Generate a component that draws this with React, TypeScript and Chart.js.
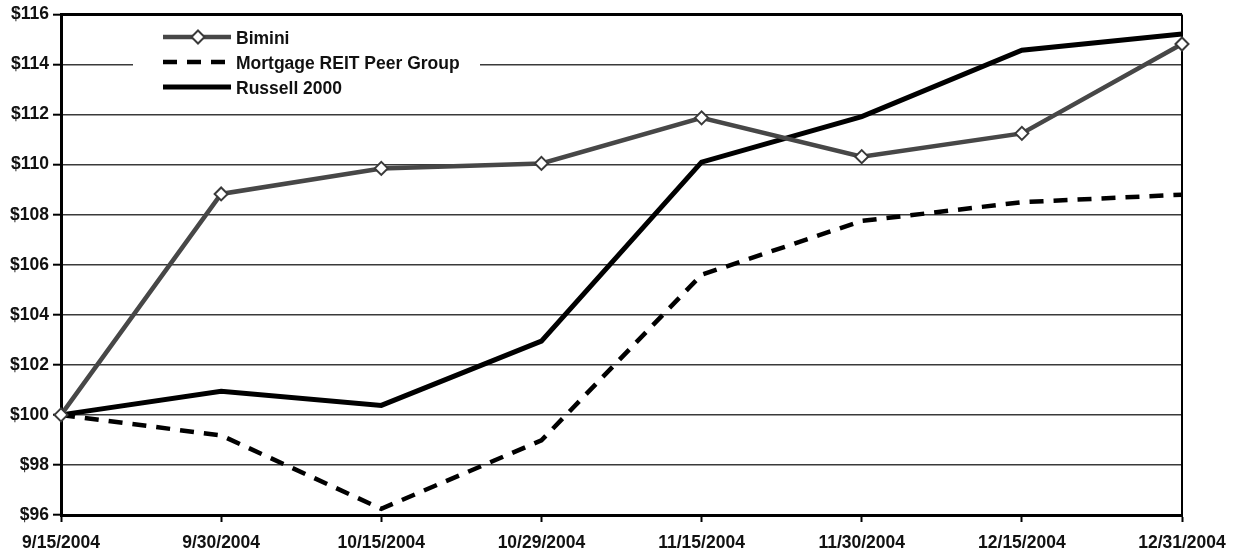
import React, { useEffect, useRef } from "react";
import { Chart, registerables } from "chart.js";

Chart.register(...registerables);

const categories = [
  "9/15/2004",
  "9/30/2004",
  "10/15/2004",
  "10/29/2004",
  "11/15/2004",
  "11/30/2004",
  "12/15/2004",
  "12/31/2004",
];
const bimini = [100, 108.83, 109.85, 110.05, 111.87, 110.32, 111.25, 114.82];
const peerGroup = [100, 99.18, 96.25, 98.98, 105.6, 107.75, 108.5, 108.8];
const russell2000 = [100, 100.94, 100.38, 102.95, 110.1, 111.92, 114.57, 115.22];
const seriesNames = ["Bimini", "Mortgage REIT Peer Group", "Russell 2000"];
const yMin = 96;
const yMax = 116;
const yStep = 2;

const FONT = "'Liberation Sans', Arial, sans-serif";

const framePlugin = {
  id: "frame",
  beforeDatasetsDraw(chart: any) {
    const { ctx, chartArea } = chart;
    ctx.save();
    ctx.strokeStyle = "#000";
    ctx.lineWidth = 3;
    ctx.beginPath();
    ctx.moveTo(chartArea.left, chartArea.top);
    ctx.lineTo(chartArea.right, chartArea.top);
    ctx.stroke();
    ctx.lineWidth = 2;
    ctx.beginPath();
    ctx.moveTo(chartArea.right, chartArea.top);
    ctx.lineTo(chartArea.right, chartArea.bottom);
    ctx.stroke();
    ctx.restore();
  },
};

const legendPlugin = {
  id: "customLegend",
  afterDatasetsDraw(chart: any) {
    const { ctx } = chart;
    const ds = chart.data.datasets;
    ctx.save();
    ctx.fillStyle = "#fff";
    ctx.fillRect(133, 20, 347, 84);
    const rows = [37, 62, 87];
    ds.forEach((d: any, i: number) => {
      const y = rows[i];
      ctx.save();
      ctx.strokeStyle = d.borderColor;
      ctx.lineWidth = d.borderWidth;
      ctx.setLineDash(d.borderDash || []);
      ctx.beginPath();
      ctx.moveTo(163, y);
      ctx.lineTo(231, y);
      ctx.stroke();
      ctx.restore();
      if (d.pointRadius > 0) {
        ctx.save();
        ctx.fillStyle = d.pointBackgroundColor;
        ctx.strokeStyle = d.pointBorderColor;
        ctx.lineWidth = d.pointBorderWidth;
        const r = d.pointRadius;
        ctx.beginPath();
        ctx.moveTo(198, y - r);
        ctx.lineTo(198 + r, y);
        ctx.lineTo(198, y + r);
        ctx.lineTo(198 - r, y);
        ctx.closePath();
        ctx.fill();
        ctx.stroke();
        ctx.restore();
      }
      ctx.fillStyle = "#111";
      ctx.font = `bold 17.5px ${FONT}`;
      ctx.textAlign = "left";
      ctx.textBaseline = "middle";
      ctx.fillText(d.label, 236, y + 2);
    });
    ctx.restore();
  },
};

export default function App() {
  const ref = useRef<HTMLCanvasElement | null>(null);

  useEffect(() => {
    document.body.style.margin = "0";
    if (!ref.current) return;
    const chart = new Chart(ref.current, {
      type: "line",
      data: {
        labels: categories,
        datasets: [
          {
            label: seriesNames[0],
            data: bimini,
            borderColor: "#474747",
            borderWidth: 4.5,
            pointStyle: "rectRot",
            pointRadius: 6.5,
            pointBackgroundColor: "#fff",
            pointBorderColor: "#3a3a3a",
            pointBorderWidth: 2,
            tension: 0,
            clip: false,
          } as any,
          {
            label: seriesNames[1],
            data: peerGroup,
            borderColor: "#000",
            borderWidth: 4.5,
            borderDash: [14, 10],
            pointRadius: 0,
            tension: 0,
            clip: false,
          } as any,
          {
            label: seriesNames[2],
            data: russell2000,
            borderColor: "#000",
            borderWidth: 5,
            pointRadius: 0,
            tension: 0,
            clip: false,
          } as any,
        ],
      },
      options: {
        animation: false,
        responsive: true,
        maintainAspectRatio: false,
        layout: { padding: { top: 13, right: 53, left: 0, bottom: 0 } },
        plugins: {
          legend: { display: false },
          tooltip: { enabled: false },
        },
        scales: {
          x: {
            offset: false,
            grid: {
              drawOnChartArea: false,
              drawTicks: true,
              tickLength: 7,
              tickColor: "#000",
              tickWidth: 2,
            },
            border: { color: "#000", width: 3 },
            ticks: {
              color: "#111",
              font: { family: FONT, size: 17.5, weight: "bold" },
              padding: 11,
              maxRotation: 0,
              autoSkip: false,
            },
            afterFit(scale: any) {
              scale.height = 37;
              scale.paddingLeft = 0;
              scale.paddingRight = 0;
            },
          },
          y: {
            min: yMin,
            max: yMax,
            grid: {
              color: "#3a3a3a",
              lineWidth: 1.4,
              tickLength: 8,
              tickColor: "#000",
              tickWidth: 2,
            },
            border: { color: "#000", width: 3 },
            ticks: {
              stepSize: yStep,
              color: "#111",
              font: { family: FONT, size: 17.5, weight: "bold" },
              padding: 4,
              callback: (v: any) => "$" + v,
            },
            afterFit(scale: any) {
              scale.width = 61;
            },
          },
        },
      },
      plugins: [framePlugin, legendPlugin],
    });
    return () => chart.destroy();
  }, []);

  return (
    <div style={{ position: "absolute", left: 0, top: 0, width: 1235, height: 552 }}>
      <canvas ref={ref} />
    </div>
  );
}
